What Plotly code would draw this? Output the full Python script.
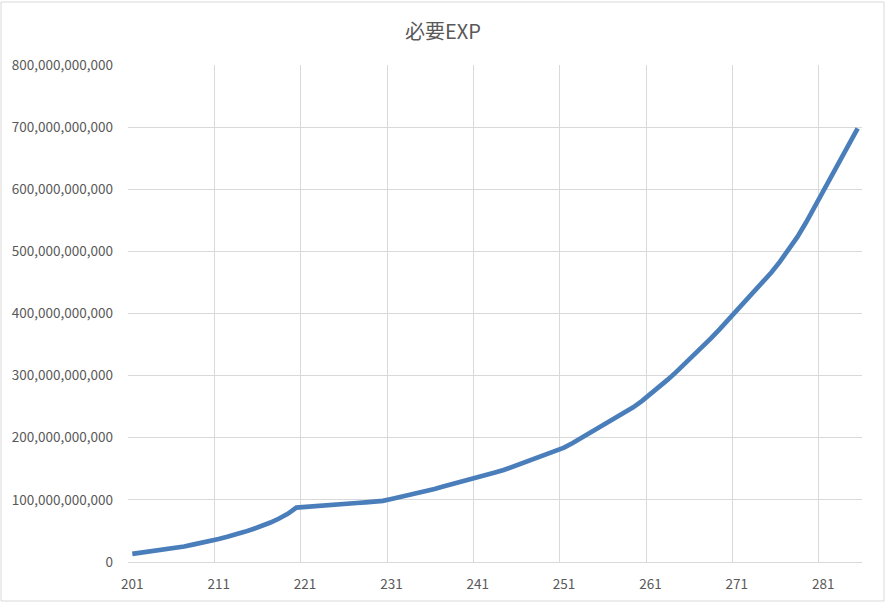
import plotly.graph_objects as go

levels = list(range(201, 286))
exp_billions = [
    13, 15, 16.5, 18, 19.5, 22, 25, 28, 30.5, 33.5,
    37, 40.5, 44, 48.5, 53, 58, 63.5, 70, 77.5, 87.5,
    88.8, 89.8, 91, 92, 93, 94, 95, 96, 97, 98.5,
    101.5, 104.5, 107.5, 110.5, 114, 117.5, 121.5, 125, 128.5, 132,
    135.5, 139.5, 144, 148, 153, 157.5, 162, 167, 172, 177.5,
    184, 191.5, 199.5, 207.5, 215.5, 223.5, 231.5, 240, 249, 259,
    270, 281.5, 293.5, 306, 319, 332, 346, 360, 374.5, 389.5,
    404.5, 419.5, 435, 450, 466, 483.5, 502, 523, 546, 571,
    597, 622, 647, 672.5, 698,
]
exp_values = [v * 1e9 for v in exp_billions]
title_text = "必要EXP"
x_tick_levels = levels[::10]
x_tick_labels = [str(v) for v in x_tick_levels]
y_tick_values = [i * 100_000_000_000 for i in range(9)]

GRID = "#d9d9d9"
TEXT = "#595959"
FONT = "Noto Sans CJK JP"

fig = go.Figure()
fig.add_trace(go.Scatter(
    x=levels, y=exp_values, mode="lines",
    line=dict(color="#4a7ebb", width=4.7),
    hoverinfo="skip", showlegend=False,
))

W, H = 886, 605
ml, mr, mt, mb = 128, 24, 65, 43
pw, ph = W - ml - mr, H - mt - mb

fig.update_layout(
    width=W, height=H,
    margin=dict(l=ml, r=mr, t=mt, b=mb, pad=0),
    paper_bgcolor="white", plot_bgcolor="white",
    font=dict(family=FONT, color=TEXT, size=13),
    title=dict(text=title_text, x=0.5, xanchor="center", y=1 - 32 / H, yanchor="middle",
               font=dict(family=FONT, size=20, color=TEXT)),
    xaxis=dict(
        range=[levels[0] - 0.5, levels[-1] + 0.5],
        tickmode="array", tickvals=x_tick_levels, ticktext=x_tick_labels,
        showgrid=False, zeroline=False,
        showline=True, linecolor=GRID, linewidth=1,
        ticks="", ticklabelstandoff=10,
        tickfont=dict(family=FONT, size=13.5, color=TEXT),
        minor=dict(tickmode="array", tickvals=[v - 0.5 for v in x_tick_levels],
                   showgrid=True, gridcolor=GRID, gridwidth=1, ticks=""),
        fixedrange=True,
    ),
    yaxis=dict(
        range=[0, 800_000_000_000],
        tickmode="array", tickvals=y_tick_values,
        tickformat=",d",
        showgrid=True, gridcolor=GRID, gridwidth=1,
        zeroline=False, showline=False,
        ticks="", ticklabelstandoff=14,
        tickfont=dict(family=FONT, size=13.5, color=TEXT),
        fixedrange=True,
    ),
)

# chart outer border (Excel chart area frame)
fig.add_shape(type="rect", xref="paper", yref="paper",
              x0=(1 - ml) / pw, x1=(884 - ml) / pw,
              y0=(H - mb - 601) / ph, y1=(H - mb - 2) / ph,
              line=dict(color=GRID, width=1), fillcolor="rgba(0,0,0,0)", layer="below")

fig.write_html("out.html", config={"displayModeBar": False},
               post_script="document.body.style.margin='0';document.body.style.overflow='hidden';")
